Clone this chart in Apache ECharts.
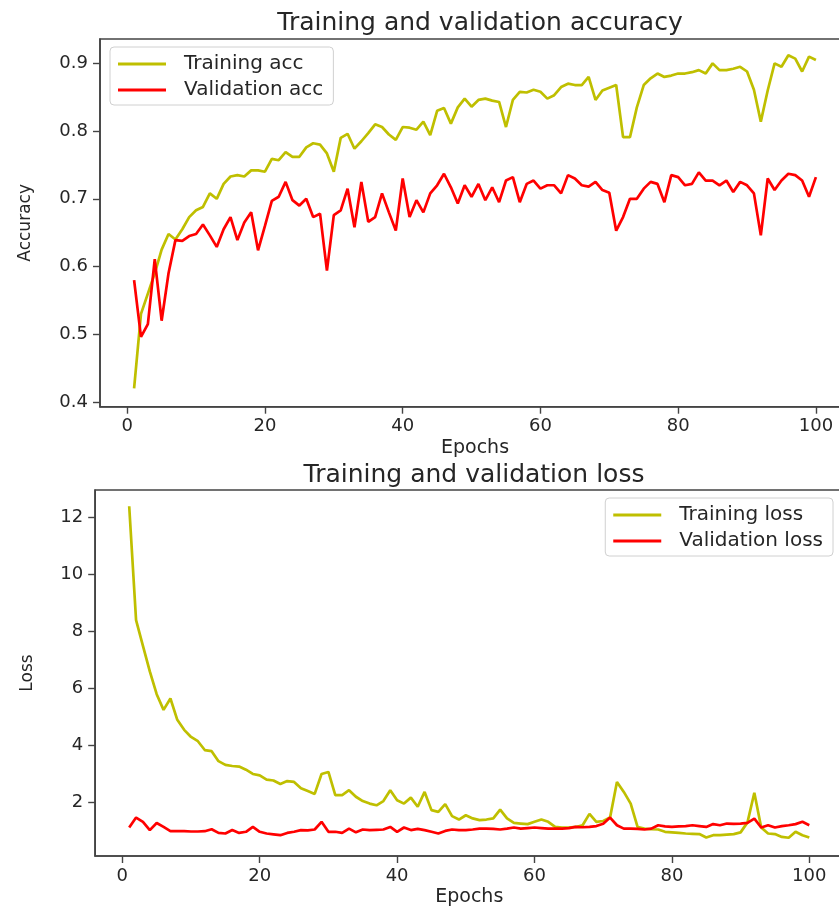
<!DOCTYPE html>
<html>
<head>
<meta charset="utf-8">
<script src="https://cdn.jsdelivr.net/npm/echarts@6/dist/echarts.min.js"></script>
<style>
  html, body { margin: 0; padding: 0; background: #fff; }
  #main { width: 839px; height: 907px; }
</style>
</head>
<body>
<div id="main"></div>
<script>
// values, one per epoch (1..100)
var trainAcc = [
  0.42, 0.53, 0.56, 0.59, 0.625, 0.648, 0.64, 0.655, 0.673, 0.683,
  0.688, 0.708, 0.70, 0.722, 0.733, 0.735, 0.733, 0.742, 0.742, 0.740,
  0.759, 0.757, 0.769, 0.762, 0.762, 0.776, 0.782, 0.780, 0.767, 0.740,
  0.790, 0.796, 0.774, 0.785, 0.797, 0.810, 0.806, 0.795, 0.787, 0.806,
  0.805, 0.802, 0.814, 0.794, 0.830, 0.834, 0.811, 0.835, 0.848, 0.836,
  0.846, 0.848, 0.845, 0.843, 0.806, 0.846, 0.858, 0.857, 0.861, 0.858,
  0.848, 0.853, 0.865, 0.870, 0.868, 0.868, 0.880, 0.846, 0.860, 0.864,
  0.868, 0.791, 0.791, 0.835, 0.868, 0.878, 0.885, 0.880, 0.882, 0.885,
  0.885, 0.887, 0.890, 0.885, 0.900, 0.890, 0.890, 0.892, 0.895, 0.888,
  0.861, 0.814, 0.860, 0.900, 0.895, 0.912, 0.907, 0.888, 0.910, 0.905
];
var valAcc = [
  0.58, 0.496, 0.515, 0.611, 0.52, 0.59, 0.639, 0.638, 0.645, 0.648,
  0.662, 0.646, 0.629, 0.655, 0.673, 0.639, 0.665, 0.68, 0.624, 0.66,
  0.697, 0.703, 0.725, 0.698, 0.69, 0.70, 0.673, 0.678, 0.594, 0.676,
  0.683, 0.715, 0.658, 0.725, 0.666, 0.673, 0.708, 0.68, 0.653, 0.73,
  0.673, 0.698, 0.68, 0.708, 0.72, 0.737, 0.717, 0.693, 0.72, 0.703,
  0.722, 0.698, 0.717, 0.695, 0.727, 0.732, 0.695, 0.722, 0.727, 0.715,
  0.72, 0.72, 0.708, 0.735, 0.73, 0.72, 0.718, 0.725, 0.713, 0.709,
  0.653, 0.673, 0.70, 0.70, 0.715, 0.725, 0.722, 0.695, 0.735, 0.732,
  0.72, 0.722, 0.739, 0.727, 0.727, 0.72, 0.727, 0.71, 0.725, 0.72,
  0.708, 0.646, 0.73, 0.713, 0.727, 0.737, 0.735, 0.727, 0.703, 0.732
];
var trainLoss = [
  12.4, 8.4, 7.5, 6.6, 5.8, 5.25, 5.65, 4.9, 4.55, 4.3,
  4.15, 3.84, 3.8, 3.45, 3.32, 3.28, 3.26, 3.15, 3.0, 2.95,
  2.8, 2.77, 2.65, 2.75, 2.72, 2.5, 2.4, 2.3, 3.0, 3.07,
  2.26, 2.26, 2.43, 2.2, 2.05, 1.96, 1.9, 2.05, 2.43, 2.08,
  1.96, 2.17, 1.85, 2.37, 1.73, 1.67, 1.94, 1.52, 1.40, 1.55,
  1.44, 1.38, 1.40, 1.44, 1.75, 1.44, 1.28, 1.26, 1.24, 1.32,
  1.40, 1.32, 1.14, 1.12, 1.12, 1.14, 1.2, 1.6, 1.32, 1.35,
  1.47, 2.72, 2.37, 1.96, 1.14, 1.08, 1.06, 1.05, 0.97, 0.95,
  0.93, 0.91, 0.9, 0.89, 0.77, 0.85, 0.85, 0.87, 0.89, 0.95,
  1.3, 2.34, 1.12, 0.91, 0.89, 0.79, 0.76, 0.97, 0.85, 0.77
];
var valLoss = [
  1.12, 1.47, 1.32, 1.03, 1.28, 1.14, 0.99, 0.99, 0.99, 0.98,
  0.98, 0.99, 1.06, 0.93, 0.91, 1.03, 0.93, 0.97, 1.14, 0.97,
  0.91, 0.88, 0.85, 0.93, 0.97, 1.03, 1.02, 1.05, 1.32, 0.97,
  0.97, 0.93, 1.08, 0.95, 1.05, 1.03, 1.04, 1.05, 1.14, 0.97,
  1.12, 1.03, 1.07, 1.03, 0.97, 0.91, 1.0, 1.05, 1.03, 1.03,
  1.05, 1.08, 1.08, 1.07, 1.05, 1.08, 1.12, 1.08, 1.1, 1.12,
  1.1, 1.08, 1.08, 1.08, 1.1, 1.14, 1.13, 1.14, 1.17, 1.25,
  1.47, 1.2, 1.08, 1.08, 1.07, 1.05, 1.08, 1.2, 1.16, 1.14,
  1.16, 1.17, 1.2, 1.17, 1.14, 1.24, 1.2, 1.26, 1.25, 1.26,
  1.28, 1.43, 1.12, 1.2, 1.12, 1.17, 1.2, 1.24, 1.32, 1.2
];

var epochTicks = [0, 20, 40, 60, 80, 100];
var accTicks = [0.4, 0.5, 0.6, 0.7, 0.8, 0.9];
var lossTicks = [2, 4, 6, 8, 10, 12];

var trainColor = '#bfbf00';
var valColor = '#ff0000';
var textColor = '#262626';
var font = 'DejaVu Sans';

function pairs(vals) {
  var out = [];
  for (var i = 0; i < vals.length; i++) out.push([i + 1, vals[i]]);
  return out;
}

function xAxisOf(gridIndex) {
  return {
    type: 'value', gridIndex: gridIndex, min: -3.95, max: 104.95,
    name: 'Epochs', nameLocation: 'middle', nameGap: 32,
    nameTextStyle: { color: textColor, fontSize: 19, fontFamily: font },
    splitLine: { show: false },
    axisLine: { show: true, onZero: false, lineStyle: { color: '#444', width: 1.6 } },
    axisTick: { show: true, length: 7, lineStyle: { color: '#444', width: 1.4 }, customValues: epochTicks },
    axisLabel: { color: textColor, fontSize: 18, fontFamily: font, margin: 11, customValues: epochTicks }
  };
}

function yAxisOf(gridIndex, name, ticks, min, max, gap, fmt) {
  return {
    type: 'value', gridIndex: gridIndex, min: min, max: max,
    name: name, nameLocation: 'middle', nameGap: gap,
    nameTextStyle: { color: textColor, fontSize: 17, fontFamily: font },
    splitLine: { show: false },
    axisLine: { show: true, onZero: false, lineStyle: { color: '#444', width: 1.6 } },
    axisTick: { show: true, length: 7, lineStyle: { color: '#444', width: 1.4 }, customValues: ticks },
    axisLabel: { color: textColor, fontSize: 18, fontFamily: font, margin: 12, customValues: ticks, formatter: fmt }
  };
}

function legendOf(pos) {
  return Object.assign({
    orient: 'vertical',
    icon: 'rect',
    itemWidth: 48, itemHeight: 3, itemGap: 6,
    padding: [7, 10, 5, 8],
    backgroundColor: 'rgba(255,255,255,0.8)',
    borderColor: '#d0d0d0', borderWidth: 1, borderRadius: 4,
    textStyle: { color: textColor, fontSize: 20, fontFamily: font, lineHeight: 19, padding: [0, 0, 0, 13] }
  }, pos);
}

function lineOf(name, vals, color, idx) {
  return {
    name: name, type: 'line', xAxisIndex: idx, yAxisIndex: idx,
    data: pairs(vals), symbol: 'none', showSymbol: false,
    lineStyle: { color: color, width: 2.7 }, itemStyle: { color: color }
  };
}

var myChart = echarts.init(document.getElementById('main'));

var option = {
  animation: false,
  backgroundColor: '#fff',
  textStyle: { fontFamily: font },
  title: [
    { text: 'Training and validation accuracy', left: 475, top: 6, textAlign: 'center',
      textStyle: { color: textColor, fontSize: 25, fontWeight: 'normal', fontFamily: font } },
    { text: 'Training and validation loss', left: 469, top: 458, textAlign: 'center',
      textStyle: { color: textColor, fontSize: 25, fontWeight: 'normal', fontFamily: font } }
  ],
  legend: [
    legendOf({ left: 110, top: 47, data: ['Training acc', 'Validation acc'] }),
    legendOf({ right: 6, top: 498, data: ['Training loss', 'Validation loss'] })
  ],
  grid: [
    { left: 100, width: 750, top: 39, height: 367.7, outerBoundsMode: 'none', containLabel: false,
      show: true, borderColor: '#444', borderWidth: 1.6, backgroundColor: 'transparent' },
    { left: 95.2, width: 748.1, top: 490, height: 366, outerBoundsMode: 'none', containLabel: false,
      show: true, borderColor: '#444', borderWidth: 1.6, backgroundColor: 'transparent' }
  ],
  xAxis: [xAxisOf(0), xAxisOf(1)],
  yAxis: [
    yAxisOf(0, 'Accuracy', accTicks, 0.393, 0.936, 66, function (v) { return v.toFixed(1); }),
    yAxisOf(1, 'Loss', lossTicks, 0.12, 12.97, 59, function (v) { return String(v); })
  ],
  series: [
    lineOf('Training acc', trainAcc, trainColor, 0),
    lineOf('Validation acc', valAcc, valColor, 0),
    lineOf('Training loss', trainLoss, trainColor, 1),
    lineOf('Validation loss', valLoss, valColor, 1)
  ]
};

myChart.setOption(option);
</script>
</body>
</html>
